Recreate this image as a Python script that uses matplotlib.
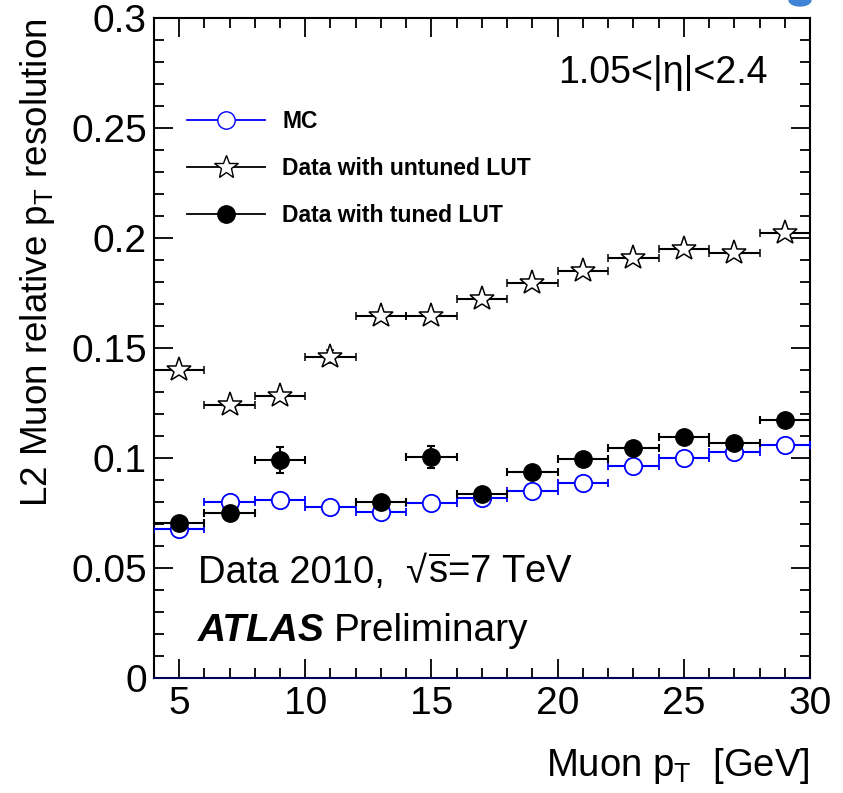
import numpy as np
import matplotlib
matplotlib.use('Agg')
import matplotlib.pyplot as plt
from matplotlib.lines import Line2D
from matplotlib.patches import Ellipse

plt.rcParams['font.family'] = ['Liberation Sans', 'DejaVu Sans']
plt.rcParams['mathtext.fontset'] = 'custom'
plt.rcParams['mathtext.rm'] = 'Liberation Sans'
plt.rcParams['mathtext.it'] = 'Liberation Sans:italic'

# bins de 2 GeV, centros
pt = [5, 7, 9, 11, 13, 15, 17, 19, 21, 23, 25, 27, 29]
pt_err = [1] * 13

mc = [0.0677, 0.0800, 0.0810, 0.0776, 0.0753, 0.0797, 0.0817,
      0.0851, 0.0888, 0.0964, 0.1001, 0.1027, 0.1058]
mc_err = [0.0008] * 13

untuned = [0.140, 0.124, 0.128, 0.146, 0.1647, 0.1647, 0.1723,
           0.1797, 0.185, 0.191, 0.195, 0.193, 0.2021]
untuned_err = [0.001, 0.001, 0.0015, 0.003, 0.001, 0.001, 0.001,
               0.001, 0.001, 0.001, 0.001, 0.001, 0.002]

# el bin de 11 GeV no tiene punto tuned
pt_tuned = [5, 7, 9, 13, 15, 17, 19, 21, 23, 25, 27, 29]
tuned = [0.0706, 0.0748, 0.0991, 0.0798, 0.1005, 0.0836, 0.0935,
         0.0994, 0.1045, 0.1094, 0.1067, 0.1171]
tuned_err = [0.0015, 0.0015, 0.006, 0.002, 0.005, 0.0015, 0.002,
             0.0015, 0.0015, 0.0015, 0.0015, 0.002]

W, H = 843, 793
fig = plt.figure(figsize=(W / 100, H / 100), dpi=100)
ax = fig.add_axes([153.8 / W, 115 / H, (810 - 153.8) / W, (678 - 18) / H])

ax.errorbar(pt, mc, xerr=pt_err, yerr=mc_err, fmt='o', color='#0000ff',
            mfc='white', mec='#0000ff', ms=12.5, mew=1.3, elinewidth=1.5,
            capsize=3, capthick=1.5, zorder=3)
ax.errorbar(pt_tuned, tuned, xerr=[1] * len(pt_tuned), yerr=tuned_err, fmt='o',
            color='black', ms=12.5, elinewidth=1.5, capsize=3, capthick=1.5, zorder=4)
ax.errorbar(pt, untuned, xerr=pt_err, yerr=untuned_err, fmt='*', color='black',
            mfc='white', mec='black', ms=18.5, mew=1.1, elinewidth=1.5,
            capsize=3, capthick=1.5, zorder=5)

ax.set_xlim(4, 30)
ax.set_ylim(0, 0.3)
ax.set_xticks([5, 10, 15, 20, 25, 30])
ax.set_xticks(np.arange(4, 31, 1), minor=True)
ax.set_yticks([0, 0.05, 0.1, 0.15, 0.2, 0.25, 0.3])
ax.set_yticklabels(['0', '0.05', '0.1', '0.15', '0.2', '0.25', '0.3'])
ax.set_yticks(np.arange(0, 0.301, 0.01), minor=True)
ax.tick_params(which='both', direction='in', top=True, right=True,
               labelsize=28, width=1.3)
ax.tick_params(which='major', length=14)
ax.tick_params(which='minor', length=7)
ax.tick_params(axis='x', pad=6)
ax.tick_params(axis='y', pad=5)
for s in ax.spines.values():
    s.set_linewidth(1.5)
ax.spines['bottom'].set_color('#000055')

ax.set_xlabel(r'Muon p$_\mathregular{T}$  [GeV]', fontsize=27.5, loc='right', labelpad=17)
ax.set_ylabel(r'L2 Muon relative p$_\mathregular{T}$ resolution', fontsize=26.5,
              loc='top', labelpad=10)

ax.text((768 - 153.8) / 656.2, (678 - 83) / 660, '1.05<|η|<2.4', transform=ax.transAxes,
        fontsize=27, ha='right', va='baseline')
fig.text(198 / W, 1 - 583 / H, 'Data 2010,  √', fontsize=27.5, va='baseline')
fig.text(428 / W, 1 - 583 / H, r'$\overline{\mathregular{s}}$=7 TeV',
         fontsize=27.5, va='baseline')
fig.text(198 / W, 1 - 641 / H, 'ATLAS', fontsize=28, fontweight='bold',
         fontstyle='italic', va='baseline')
fig.text(334 / W, 1 - 641 / H, 'Preliminary', fontsize=28, va='baseline')

handles = [
    Line2D([], [], color='#0000ff', marker='o', mfc='white', mec='#0000ff', ms=12.5, lw=1.3),
    Line2D([], [], color='black', marker='*', mfc='white', mec='black', ms=18, lw=1.3),
    Line2D([], [], color='black', marker='o', ms=12.5, lw=1.3),
]
labels = ['MC', 'Data with untuned LUT', 'Data with tuned LUT']
fig.legend(handles, labels, loc='upper left',
           bbox_to_anchor=(187 / W, 1 - 110 / H), frameon=False,
           prop={'weight': 'bold', 'size': 16.5}, handlelength=3.4,
           handletextpad=0.75, labelspacing=1.05, borderpad=0, borderaxespad=0)

# trozo de logo azul arriba a la derecha
fig.patches.append(Ellipse((800 / W, 1.0), 22 / W, 12 / H,
                           transform=fig.transFigure, color='#3f83d6'))

fig.savefig('out.png', dpi=100)
